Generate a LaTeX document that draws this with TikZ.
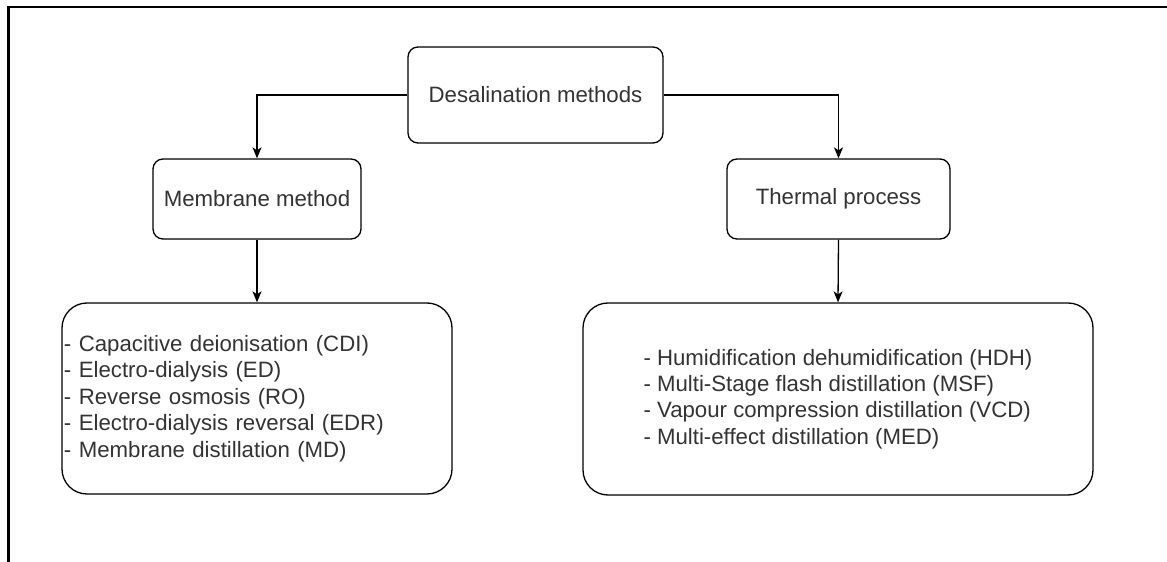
\documentclass[tikz,border=0pt]{standalone}
\usepackage{fontspec}
\setmainfont{Liberation Sans}
\usetikzlibrary{arrows.meta}
\definecolor{txt}{HTML}{333333}
\begin{document}
\begin{tikzpicture}[x=1bp,y=-1bp,
  box/.style={draw=black, line width=1.3bp, rounded corners=10bp, fill=white,
    text=txt, font=\fontsize{22.3}{26}\selectfont, inner sep=0pt},
  listbox/.style={draw=black, line width=1.3bp, rounded corners=25bp, fill=white,
    text=txt, font=\fontsize{22.3}{26.5}\selectfont, align=left},
  conn/.style={draw=black, line width=1.3bp, -{Stealth[length=11bp,width=9bp,inset=3bp]}},
  frame/.style={draw=black, line width=2.2bp}
]
\useasboundingbox (0,0) rectangle (1167,562);
\coordinate (fa) at (8.5,570);
\coordinate (fb) at (8.5,7);
\coordinate (fc) at (1175,7);
\draw[frame] (fa) -- (fb) -- (fc);

\node[box, minimum width=255bp, minimum height=96bp] (top) at (535.5,95) {Desalination methods};
\node[box, minimum width=208bp, minimum height=80bp] (mem) at (257,199) {Membrane method};
\node[box, minimum width=223bp, minimum height=80bp] (thm) at (838.5,199) {Thermal process};

\node[listbox, minimum width=390bp, minimum height=191bp, inner xsep=2bp, inner ysep=0pt,
  text width=386bp] (meml) at (257,398.5)
  {- Capacitive deionisation (CDI)\\
   - Electro-dialysis (ED)\\
   - Reverse osmosis (RO)\\
   - Electro-dialysis reversal (EDR)\\
   - Membrane distillation (MD)};
\node[listbox, minimum width=510bp, minimum height=192bp, inner sep=0pt] (thml) at (838,399)
  {- Humidification dehumidification (HDH)\\
   - Multi-Stage flash distillation (MSF)\\
   - Vapour compression distillation (VCD)\\
   - Multi-effect distillation (MED)};

\draw[conn] (top.west) -| (mem.north);
\draw[conn] (top.east) -| (thm.north);
\draw[conn] (mem.south) -- (meml.north);
\draw[conn] (thm.south) -- (thml.north);
\end{tikzpicture}
\end{document}
